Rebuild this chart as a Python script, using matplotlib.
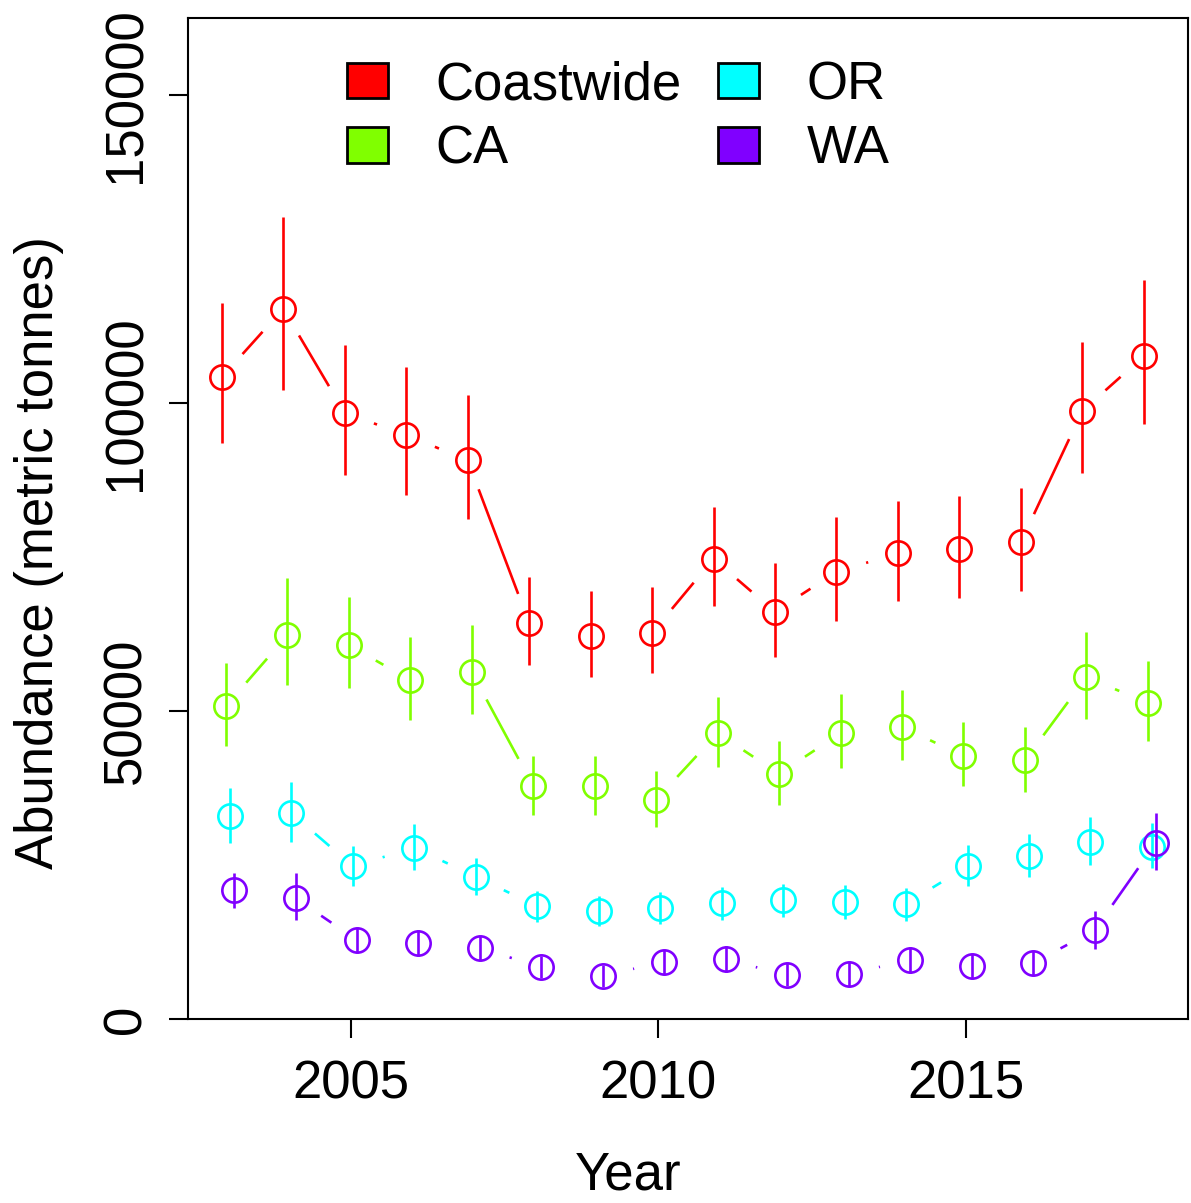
import numpy as np
import matplotlib
matplotlib.use("Agg")
import matplotlib.pyplot as plt
from matplotlib.patches import Patch

plt.rcParams['font.family'] = ['Liberation Sans', 'DejaVu Sans']

# data
years = np.arange(2003, 2019)
regions = ["Coastwide", "CA", "OR", "WA"]
colors = ["#FF0000", "#80FF00", "#00FFFF", "#8000FF"]
offsets = [-0.1, -0.033, 0.033, 0.1]

coastwide = [104200, 115300, 98400, 94800, 90700, 64300, 62200, 62700,
             74700, 66100, 72600, 75600, 76300, 77400, 98700, 107600]
coastwide_lo = [93500, 102100, 88300, 85100, 81200, 57500, 55500, 56200,
                67000, 58800, 64600, 67900, 68300, 69500, 88600, 96600]
coastwide_hi = [116200, 130200, 109400, 105800, 101300, 71800, 69500, 70100,
                83100, 74000, 81500, 84100, 84900, 86200, 109900, 120000]

ca = [50800, 62300, 60700, 55000, 56300, 37800, 37800, 35600,
      46400, 39800, 46400, 47400, 42700, 42000, 55500, 51300]
ca_lo = [44300, 54200, 53700, 48500, 49500, 33100, 33100, 31200,
         40900, 34700, 40700, 42000, 37800, 36900, 48700, 45100]
ca_hi = [57800, 71600, 68500, 62000, 64000, 42700, 42700, 40300,
         52300, 45100, 52800, 53400, 48200, 47400, 62800, 58100]

orr = [33000, 33400, 24800, 27800, 23100, 18300, 17500, 18000,
       18800, 19300, 19000, 18700, 24800, 26500, 28700, 27900]
orr_lo = [28600, 28700, 21600, 24200, 20100, 15700, 15100, 15400,
          16100, 16600, 16200, 15900, 21600, 23100, 25000, 24500]
orr_hi = [37500, 38500, 28100, 31700, 26100, 20800, 20000, 20600,
          21400, 21900, 21800, 21300, 28200, 30000, 32800, 31800]

wa = [20900, 19600, 12800, 12300, 11500, 8400, 7000, 9300,
      9700, 7100, 7300, 9600, 8600, 9100, 14400, 28600]
wa_lo = [18000, 16100, 10900, 10200, 9600, 6700, 5200, 7300,
         7600, 5400, 5400, 7500, 6700, 7100, 11400, 24200]
wa_hi = [23700, 23700, 14800, 14400, 13500, 10200, 8800, 11200,
         11900, 9100, 9300, 11700, 10600, 11000, 17500, 33500]

values = [coastwide, ca, orr, wa]
lows = [coastwide_lo, ca_lo, orr_lo, wa_lo]
highs = [coastwide_hi, ca_hi, orr_hi, wa_hi]

fig = plt.figure(figsize=(11.91, 12.03), dpi=100)
ax = fig.add_axes([188/1191, 1 - 1019/1203, 1000/1191, 1001/1203])
ax.set_xlim(2002.35, 2018.62)
ax.set_ylim(0, 162500)

# gap (pixels) left around each point, like R's type="b"
gap = 31

for k in range(len(regions)):
    x = years + offsets[k]
    y = np.array(values[k], dtype=float)
    col = colors[k]
    # error bars
    ax.vlines(x, lows[k], highs[k], color=col, lw=1.9)
    # open circles
    ax.plot(x, y, 'o', ms=17.5, mfc='none', mec=col, mew=1.9)
    # connecting segments with gaps
    pts = ax.transData.transform(np.column_stack([x, y]))
    inv = ax.transData.inverted()
    for i in range(len(x) - 1):
        p0, p1 = pts[i], pts[i + 1]
        d = np.hypot(*(p1 - p0))
        if d <= 2 * gap + 1:
            continue
        u = (p1 - p0) / d
        a = inv.transform(p0 + u * gap)
        b = inv.transform(p1 - u * gap)
        ax.plot([a[0], b[0]], [a[1], b[1]], color=col, lw=1.9,
                solid_capstyle='butt')

# axes and labels
ax.set_xticks([2005, 2010, 2015])
ax.set_yticks([0, 50000, 100000, 150000])
ax.set_yticklabels(["0", "50000", "100000", "150000"])
ax.tick_params(axis='both', labelsize=38, length=14, width=1.5, pad=12)
ax.tick_params(axis='x', pad=15)
ax.tick_params(axis='y', labelrotation=90)
for lab in ax.get_yticklabels():
    lab.set_va('center')
for s in ax.spines.values():
    s.set_linewidth(1.5)
ax.set_xlabel("Year", fontsize=38, labelpad=30)
ax.set_ylabel("Abundance (metric tonnes)", fontsize=38, labelpad=27)
ax.xaxis.label.set_x((628 - 188) / 1000)
ax.yaxis.label.set_y((1019 - 553) / 1001)

handles = [Patch(facecolor=c, edgecolor='black', lw=2) for c in colors]
ax.legend(handles, regions, loc='upper left', ncol=2, frameon=False,
          fontsize=38, handlelength=0.77, handleheight=0.67,
          handletextpad=0.9, columnspacing=0.7, labelspacing=0.27,
          borderpad=0, borderaxespad=0,
          bbox_to_anchor=(347/1191, 1 - 60/1203), bbox_transform=fig.transFigure)

plt.savefig("out.png", dpi=100)
